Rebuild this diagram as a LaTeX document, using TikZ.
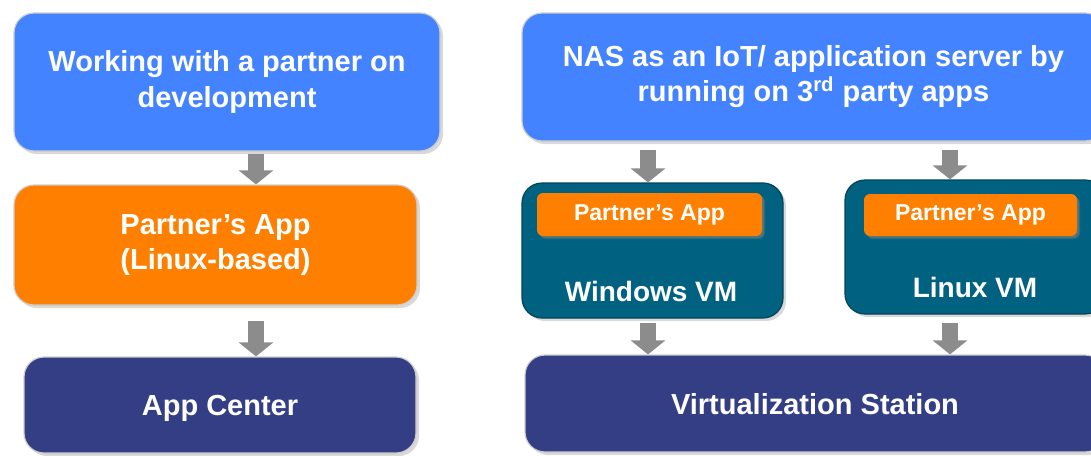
\documentclass[tikz,border=0pt]{standalone}
\usepackage{fontspec}
\setmainfont{Liberation Sans}
\usetikzlibrary{positioning,shadows,arrows.meta}
\definecolor{nasblue}{RGB}{68,131,255}
\definecolor{nasorange}{RGB}{255,128,0}
\definecolor{nasnavy}{RGB}{51,62,133}
\definecolor{nasteal}{RGB}{0,98,128}
\definecolor{boxline}{RGB}{205,205,205}
\definecolor{arrowgray}{RGB}{140,140,140}

\begin{document}
\begin{tikzpicture}[x=0.5pt,y=-0.5pt,
    box/.style={draw=boxline,line width=0.6pt,rounded corners=10pt,text=white,align=center,inner sep=0pt,
        font=\fontsize{14.5}{17.5}\selectfont\bfseries,
        drop shadow={shadow xshift=1.5pt,shadow yshift=-1.5pt,opacity=0.3}},
    topbox/.style={box,fill=nasblue},
    appbox/.style={box,fill=nasorange},
    basebox/.style={box,fill=nasnavy,text depth=0pt},
    vmbox/.style={box,fill=nasteal,draw=nasteal!70!black},
    smallapp/.style={box,fill=nasorange,draw=none,rounded corners=3pt,font=\fontsize{11.5}{13}\selectfont\bfseries,
        drop shadow={shadow xshift=1pt,shadow yshift=-1pt,opacity=0.45}},
    vmtext/.style={text=white,font=\fontsize{14}{17}\selectfont\bfseries,inner sep=0pt},
    blockarrow/.style={draw=arrowgray,line width=8pt,-{Triangle[width=17pt,length=7pt]}}]
    \clip (0,0) rectangle (1091,455);

    \node [topbox,minimum width=213pt,minimum height=69pt] (ltop) at (227,82) {Working with a partner on\\development};
    \node [appbox,minimum width=201.5pt,minimum height=60pt] (lapp) at (215.5,245) {Partner's App\\(Linux-based)};
    \node [basebox,minimum width=196pt,minimum height=48pt] (lcenter) at (220,405) {App Center};

    \node [topbox,minimum width=291.5pt,minimum height=64pt] (rtop) at (813.5,77) {NAS as an IoT/ application server by\\running on 3\textsuperscript{rd} party apps};
    \node [vmbox,minimum width=130.5pt,minimum height=67.5pt] (wvm) at (652.5,250.5) {};
    \node [smallapp,minimum width=112.5pt,minimum height=21.5pt] (wapp) at (649.5,214.5) {Partner's App};
    \node [vmtext] (wvmtext) at (651,291) {Windows VM};
    \node [vmbox,minimum width=130pt,minimum height=67pt] (lvm) at (975,247) {};
    \node [smallapp,minimum width=106.5pt,minimum height=21pt] (lapp2) at (970.5,215) {Partner's App};
    \node [vmtext] (lvmtext) at (975,287) {Linux VM};
    \node [basebox,minimum width=290pt,minimum height=48.5pt] (vstation) at (815,403.5) {Virtualization Station};

    \coordinate (a1) at (256,0);
    \coordinate (a2) at (648,0);
    \coordinate (a3) at (950,0);

    \draw [blockarrow] ([yshift=-1pt]ltop.south -| a1) -- (lapp.north -| a1);
    \draw [blockarrow] ([yshift=-7.5pt]lapp.south -| a1) -- (lcenter.north -| a1);
    \draw [blockarrow] ([yshift=-4pt]rtop.south -| a2) -- (wvm.north -| a2);
    \draw [blockarrow] ([yshift=-4pt]rtop.south -| a3) -- (lvm.north -| a3);
    \draw [blockarrow] ([yshift=-2pt]wvm.south -| a2) -- (vstation.north -| a2);
    \draw [blockarrow] ([yshift=-4pt]lvm.south -| a3) -- (vstation.north -| a3);
\end{tikzpicture}
\end{document}
